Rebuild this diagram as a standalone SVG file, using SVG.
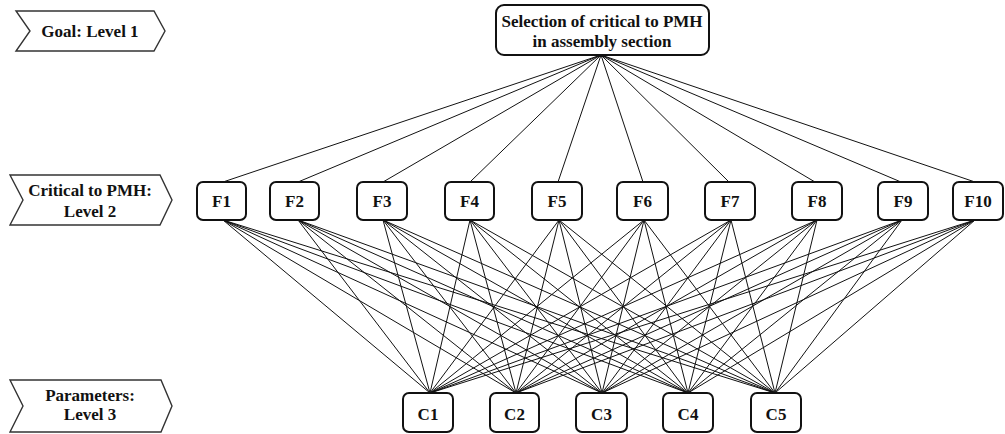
<svg xmlns="http://www.w3.org/2000/svg" width="1005" height="434" viewBox="0 0 1005 434">
<style>
text{font-family:'Liberation Serif','DejaVu Serif',serif;font-weight:700;font-size:17px;fill:#111;text-anchor:middle}
.chev{fill:#fff;stroke:#333;stroke-width:1.4}
.box{fill:#fff;stroke:#111;stroke-width:2}
.ln{stroke:#111;stroke-width:1;fill:none}
</style>
<rect width="1005" height="434" fill="#fff"/>
<g id="connectors" class="ln">
<path d="M601 55L223 182M601 55L298 182M601 55L383 182M601 55L470 182M601 55L558 182M601 55L643 182M601 55L729 182M601 55L815 182M601 55L901 182M601 55L975 182"/>
<path d="M223 220L430 393M223 220L516 393M223 220L602 393M223 220L688 393M223 220L775 393"/>
<path d="M298 220L430 393M298 220L516 393M298 220L602 393M298 220L688 393M298 220L775 393"/>
<path d="M383 220L430 393M383 220L516 393M383 220L602 393M383 220L688 393M383 220L775 393"/>
<path d="M470 220L430 393M470 220L516 393M470 220L602 393M470 220L688 393M470 220L775 393"/>
<path d="M559 220L430 393M559 220L516 393M559 220L602 393M559 220L688 393M559 220L775 393"/>
<path d="M644 220L430 393M644 220L516 393M644 220L602 393M644 220L688 393M644 220L775 393"/>
<path d="M731 220L430 393M731 220L516 393M731 220L602 393M731 220L688 393M731 220L775 393"/>
<path d="M817 220L430 393M817 220L516 393M817 220L602 393M817 220L688 393M817 220L775 393"/>
<path d="M902 220L430 393M902 220L516 393M902 220L602 393M902 220L688 393M902 220L775 393"/>
<path d="M975 220L430 393M975 220L516 393M975 220L602 393M975 220L688 393M975 220L775 393"/>
</g>
<g font-family="Liberation Serif, DejaVu Serif, serif">
<g id="level1-label"><polygon class="chev" points="16,11 154,11 165,31 154,51 16,51 30,31"/><text x="90" y="37">Goal: Level 1</text></g>
<g id="level2-label"><polygon class="chev" points="10,175 160,175 172,200 160,225 10,225 23,200"/><text x="90" y="196">Critical to PMH:</text><text x="90" y="217">Level 2</text></g>
<g id="level3-label"><polygon class="chev" points="10,380 161,380 172,406 161,432 10,432 23,406"/><text x="90" y="401">Parameters:</text><text x="90" y="420">Level 3</text></g>
<g id="goal"><rect class="box" x="496" y="5" width="213" height="50" rx="8"/><text x="602" y="27">Selection of critical to PMH</text><text x="602" y="47">in assembly section</text></g>
<g id="F1"><rect class="box" x="197" y="182" width="49" height="38" rx="6"/><text x="221.5" y="207">F1</text></g>
<g id="F2"><rect class="box" x="270" y="182" width="49" height="38" rx="6"/><text x="294.5" y="207">F2</text></g>
<g id="F3"><rect class="box" x="357" y="182" width="50" height="38" rx="6"/><text x="382" y="207">F3</text></g>
<g id="F4"><rect class="box" x="445" y="182" width="49" height="38" rx="6"/><text x="469.5" y="207">F4</text></g>
<g id="F5"><rect class="box" x="532" y="182" width="50" height="38" rx="6"/><text x="557" y="207">F5</text></g>
<g id="F6"><rect class="box" x="617" y="182" width="51" height="38" rx="6"/><text x="642.5" y="207">F6</text></g>
<g id="F7"><rect class="box" x="705" y="182" width="50" height="38" rx="6"/><text x="730" y="207">F7</text></g>
<g id="F8"><rect class="box" x="792" y="182" width="50" height="38" rx="6"/><text x="817" y="207">F8</text></g>
<g id="F9"><rect class="box" x="878" y="182" width="50" height="38" rx="6"/><text x="903" y="207">F9</text></g>
<g id="F10"><rect class="box" x="953" y="182" width="50" height="38" rx="6"/><text x="978" y="207">F10</text></g>
<g id="C1"><rect class="box" x="403" y="393" width="50" height="39" rx="6"/><text x="428" y="420">C1</text></g>
<g id="C2"><rect class="box" x="490" y="393" width="49" height="39" rx="6"/><text x="514.5" y="420">C2</text></g>
<g id="C3"><rect class="box" x="576" y="393" width="51" height="39" rx="6"/><text x="601.5" y="420">C3</text></g>
<g id="C4"><rect class="box" x="663" y="393" width="50" height="39" rx="6"/><text x="688" y="420">C4</text></g>
<g id="C5"><rect class="box" x="751" y="393" width="50" height="39" rx="6"/><text x="776" y="420">C5</text></g>
</g>
</svg>
